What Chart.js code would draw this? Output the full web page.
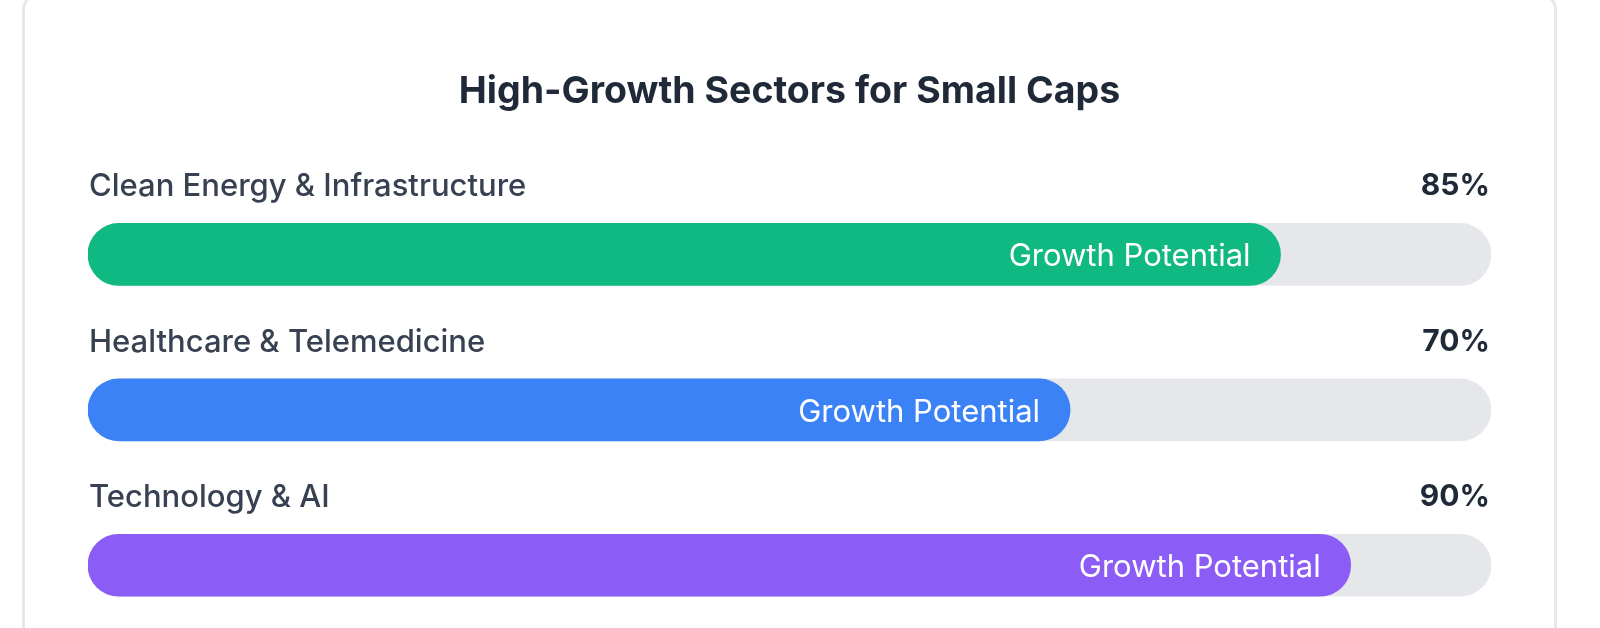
<html>
<head>
  <meta charset="utf-8">
  <title>High-Growth Sectors for Small Caps</title>
  <script src="https://cdn.jsdelivr.net/npm/chart.js@4.4.1/dist/chart.umd.min.js"></script>
  <style>
    html, body { margin: 0; padding: 0; background: #ffffff; overflow: hidden; }
    .card {
      position: absolute; left: 22px; top: -8px; width: 1535px; height: 700px;
      border: 3px solid #e5e7eb; border-radius: 18px; box-sizing: border-box;
    }
    .wrap { position: absolute; left: 0; top: 0; width: 1600px; height: 660px; }
  </style>
</head>
<body>

<div class="card"></div>
<div class="wrap">
  <canvas id="myChart"></canvas>
</div>

<script>

const sectors = ['Clean Energy & Infrastructure', 'Healthcare & Telemedicine', 'Technology & AI'];
const growth = [85, 70, 90];
const track = [100, 100, 100];
const barColors = ['#10b981', '#3b82f6', '#8b5cf6'];
const barText = 'Growth Potential';

const FONT = 'Inter, "Noto Sans", sans-serif';

// labels above each bar, percent on the right, text inside the fill
const rowText = {
  id: 'rowText',
  afterDatasetsDraw(chart) {
    const ctx = chart.ctx;
    const area = chart.chartArea;
    const meta = chart.getDatasetMeta(0);
    ctx.save();
    meta.data.forEach((bar, i) => {
      const top = bar.y - bar.height / 2;

      ctx.textBaseline = 'alphabetic';
      ctx.font = '500 31px ' + FONT;
      ctx.fillStyle = '#374151';
      ctx.textAlign = 'left';
      ctx.fillText(sectors[i], area.left + 1, top - 27);

      ctx.font = '700 30px ' + FONT;
      ctx.fillStyle = '#1f2937';
      ctx.textAlign = 'right';
      ctx.fillText(growth[i] + '%', area.right - 1, top - 28);

      ctx.font = '400 31px ' + FONT;
      ctx.fillStyle = '#ffffff';
      ctx.textAlign = 'right';
      ctx.fillText(barText, bar.x - 30, bar.y + 12);
    });
    ctx.restore();
  }
};

const data = {
  labels: sectors,
  datasets: [{
    label: barText,
    data: growth,
    backgroundColor: barColors,
    order: 1
  },
  {
    label: 'Track',
    data: track,
    backgroundColor: '#e5e7eb',
    order: 2
  }]
};

const config = {
  type: 'bar',
  data,
  plugins: [rowText],
  options: {
    indexAxis: 'y',
    responsive: true,
    maintainAspectRatio: false,
    animation: false,
    grouped: false,
    barThickness: 62,
    borderRadius: 31,
    borderSkipped: false,
    layout: { padding: { left: 88, right: 109, top: 0, bottom: 17 } },
    scales: {
      x: { min: 0, max: 100, display: false },
      y: { display: false, offset: true }
    },
    plugins: {
      legend: { display: false },
      tooltip: { enabled: false },
      title: {
        display: true,
        text: 'High-Growth Sectors for Small Caps',
        color: '#1f2937',
        font: { family: FONT, size: 37.5, weight: '700', lineHeight: 1.2 },
        padding: { top: 69, bottom: 62.7 }
      }
    }
  }
};

var myChart = new Chart(document.getElementById('myChart'), config);

</script>

</body>
</html>
